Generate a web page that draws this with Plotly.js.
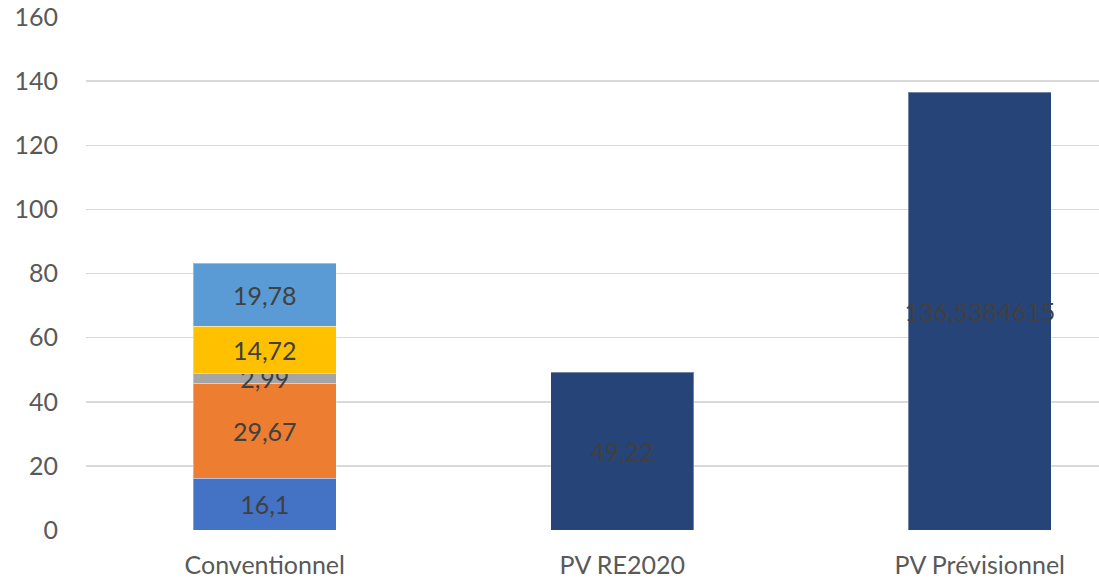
<!DOCTYPE html>
<html>
<head>
<meta charset="utf-8">
<script src="https://cdn.plot.ly/plotly-3.0.1.min.js"></script>
<style>html,body{margin:0;padding:0;background:#fff;}#chart{width:1099px;height:581px;}</style>
</head>
<body>
<div id="chart"></div>
<script>
const categories = ['Conventionnel', 'PV RE2020', 'PV Prévisionnel'];
const convSegments = [16.1, 29.67, 2.99, 14.72, 19.78];
const convColors = ['#4472c4', '#ed7d31', '#a5a5a5', '#ffc000', '#5b9bd5'];
const pvCategories = ['PV RE2020', 'PV Prévisionnel'];
const pvValues = [49.22, 136.5384615];
const pvColor = '#264478';
const yTicks = [0, 20, 40, 60, 80, 100, 120, 140, 160];

const fmt = v => String(v).replace('.', ',');
const labelFont = {family: 'Lato, Calibri, sans-serif', size: 25, color: '#404040'};

const traces = convSegments.map((v, i) => ({
  type: 'bar',
  x: [categories[0]],
  y: [v],
  text: [fmt(v)],
  textposition: 'inside',
  insidetextanchor: 'middle',
  textangle: 0,
  constraintext: 'none',
  textfont: labelFont,
  insidetextfont: labelFont,
  marker: {color: convColors[i], line: {color: 'rgba(255,255,255,0.35)', width: 1}},
  hoverinfo: 'none',
  cliponaxis: false
}));
traces.push({
  type: 'bar',
  x: pvCategories,
  y: pvValues,
  text: pvValues.map(fmt),
  textposition: 'inside',
  insidetextanchor: 'middle',
  textangle: 0,
  constraintext: 'none',
  textfont: labelFont,
  insidetextfont: labelFont,
  marker: {color: pvColor, line: {color: 'rgba(255,255,255,0.35)', width: 1}},
  hoverinfo: 'none',
  cliponaxis: false
});

const plotLeft = 85.5, catWidth = 357.7, W = 1099;
const layout = {
  width: W, height: 581,
  margin: {l: plotLeft, r: 0, t: 16.5, b: 51, pad: 0},
  paper_bgcolor: '#fff', plot_bgcolor: '#fff',
  barmode: 'stack',
  bargap: 0.6,
  showlegend: false,
  font: {family: 'Lato, Calibri, sans-serif', color: '#595959'},
  xaxis: {
    type: 'category',
    categoryorder: 'array', categoryarray: categories,
    range: [-0.5, -0.5 + (W - plotLeft) / catWidth],
    showgrid: false, zeroline: false, showline: false,
    ticks: 'outside', ticklen: 13, tickcolor: 'rgba(0,0,0,0)',
    tickfont: {family: 'Lato, Calibri, sans-serif', size: 25, color: '#595959'}
  },
  yaxis: {
    range: [0, 160],
    tickvals: yTicks, ticktext: yTicks.map(String),
    showgrid: true, gridcolor: '#d9d9d9', gridwidth: 1.5,
    zeroline: false, showline: false,
    ticks: 'outside', ticklen: 22, tickcolor: 'rgba(0,0,0,0)',
    tickfont: {family: 'Lato, Calibri, sans-serif', size: 25, color: '#595959'}
  }
};

Plotly.newPlot('chart', traces, layout, {displayModeBar: false, staticPlot: true});
</script>
</body>
</html>
